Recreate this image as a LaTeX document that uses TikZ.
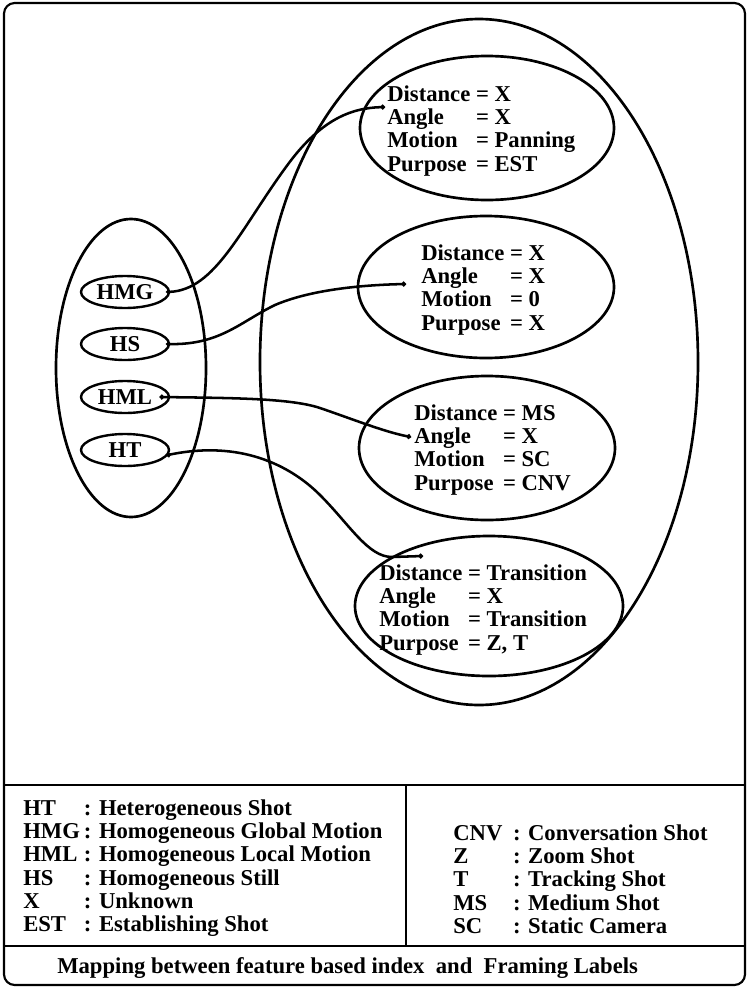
\documentclass[tikz,border=0pt]{standalone}
\usepackage{fontspec}
\setmainfont{Liberation Serif}
\usetikzlibrary{shapes.geometric,arrows.meta}

\tikzset{
  tag/.style={draw, ellipse, line width=1.8pt, minimum width=66pt, minimum height=24pt, inner sep=0pt},
  link/.style={line width=1.9pt, {Circle[length=3.5pt]}-{Circle[length=3.5pt]}},
  shottext/.style={anchor=base west, inner sep=0pt},
}
% one block of framing labels
\newcommand{\framing}[4]{\begin{tabular}[t]{@{}l@{ }l@{}}Distance &= #1\\ Angle &= #2\\ Motion &= #3\\ Purpose &= #4\end{tabular}}

\begin{document}
\begin{tikzpicture}[x=0.75pt,y=0.75pt,yscale=-1,xscale=1,
    every node/.append style={font=\bfseries\fontsize{17}{17.5}\selectfont}]
    \useasboundingbox (0,0) rectangle (747,989);

    %Shape: Frame
    \draw [line width=1.6pt, rounded corners=8pt] (4,3) rectangle (745,985);
    \draw [line width=1.6pt] (4,785) -- (745,785) ;
    \draw [line width=1.6pt] (4,946) -- (745,946) ;
    \draw [line width=1.6pt] (406,785) -- (406,946) ;

    %Shape: Ellipse, feature based index
    \draw [line width=2pt] (131,368) ellipse (75 and 149) ;
    %Shape: Ellipse, framing labels
    \draw [line width=2pt] (479,362) ellipse (219 and 343) ;
    \draw [line width=2pt] (487,128) ellipse (127 and 72) ;
    \draw [line width=2pt] (486,287) ellipse (128 and 71) ;
    \draw [line width=2pt] (487,448) ellipse (128 and 72) ;
    \draw [line width=2pt] (489,606) ellipse (134 and 70) ;

    % Index nodes
    \node [tag] (hmg) at (125,292) {HMG};
    \node [tag] (hs) at (125,344) {HS};
    \node [tag] (hml) at (125,397) {HML};
    \node [tag] (ht) at (125,450) {HT};

    % Text Node
    \node [shottext] (panning) at (387,101) {\framing{X}{X}{Panning}{EST}};
    % Text Node
    \node [shottext] (still) at (421,260) {\framing{X}{X}{0}{X}};
    % Text Node
    \node [shottext] (local) at (414,420) {\framing{MS}{X}{SC}{CNV}};
    % Text Node
    \node [shottext] (trans) at (379,580) {\framing{Transition}{X}{Transition}{Z, T}};

    \coordinate (panningin) at (385,107);
    \coordinate (stillin) at (406,284);
    \coordinate (localin) at (411,437);
    \coordinate (transin) at (423,556);

    %Curves
    \draw [link] ([xshift=-3pt]hmg.east) .. controls (215,290) and (240,230) .. (286,167) .. controls (320,120) and (350,108) .. (panningin) ;
    \draw [link] ([xshift=-3pt]hs.east) .. controls (220,345) and (240,322) .. (275,305) .. controls (310,290) and (360,285) .. (stillin) ;
    \draw [link] ([xshift=-8pt]hml.east) .. controls (230,398) and (290,398) .. (320,408) .. controls (355,420) and (385,432) .. (localin) ;
    \draw [link] ([xshift=-3pt,yshift=4pt]ht.east) .. controls (240,440) and (290,465) .. (320,495) .. controls (350,525) and (368,557) .. (392,557) -- (transin) ;

    % Legend
    \node [shottext] (legendl) at (23,815) {\begin{tabular}[t]{@{}l@{\hspace{3pt}}l@{}}
      HT & : Heterogeneous Shot\\
      HMG& : Homogeneous Global Motion\\
      HML& : Homogeneous Local Motion\\
      HS & : Homogeneous Still\\
      X  & : Unknown\\
      EST& : Establishing Shot
    \end{tabular}};
    \node [shottext] (legendr) at (453,840) {\begin{tabular}[t]{@{}l@{\hspace{8pt}}l@{}}
      CNV & : Conversation Shot\\
      Z   & : Zoom Shot\\
      T   & : Tracking Shot\\
      MS  & : Medium Shot\\
      SC  & : Static Camera
    \end{tabular}};
    % Caption
    \node [shottext] (caption) at (57,973) {Mapping between feature based index\ \ and\ \ Framing Labels};

\end{tikzpicture}
\end{document}
